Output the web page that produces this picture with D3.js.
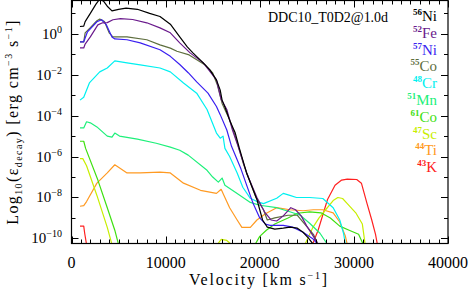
<!DOCTYPE html>
<html><head><meta charset="utf-8">
<script src="https://cdn.jsdelivr.net/npm/d3@7"></script>
<style>body{margin:0;background:#fff}svg{display:block}text{font-family:"Liberation Serif","Times New Roman",serif}</style>
</head><body>
<svg id="c" width="471" height="289"></svg>
<script>
// ---- data (velocity km/s, log10 of decay energy) ----
const ni56 = [[900,0.36],[1300,0.38],[1450,0.6],[2000,1.0],[2600,1.45],[3000,1.7],[3400,1.6],[3800,1.35],[4300,1.12],[5000,1.2],[5800,1.26],[7000,1.2],[8300,1.0],[9400,0.85],[10500,0.47],[11500,-0.15],[12300,-0.64],[12900,-0.93],[14000,-1.42],[14700,-1.76],[15400,-2.25],[15800,-2.75],[16000,-3.24],[16300,-3.58],[16800,-4.22],[17400,-4.85],[17800,-5.54],[18600,-6.8],[19700,-8.1],[20300,-9.1],[20800,-9.45],[21600,-9.55],[22500,-9.5],[23200,-9.45],[24000,-9.5],[24600,-9.7],[25200,-10.0],[25700,-10.3]];
const fe52 = [[900,-0.69],[1300,-0.69],[1450,-0.5],[2000,-0.15],[2800,0.44],[3300,0.54],[3800,0.55],[4400,0.69],[5200,0.74],[6500,0.7],[8000,0.54],[9400,0.29],[10500,0.05],[11500,-0.44],[12600,-0.93],[14000,-1.42],[15400,-2.25],[15900,-3.2],[16500,-3.7],[17100,-4.7],[17700,-5.5],[18600,-6.8],[19700,-8.0],[20500,-8.7],[21200,-9.1],[21800,-9.15],[22500,-8.9],[23300,-8.5],[23800,-8.6],[24400,-8.9],[25000,-9.4],[25700,-9.9],[26200,-10.3]];
const ni57 = [[900,-0.39],[1300,-0.39],[1450,-0.2],[1700,0.1],[2700,0.59],[3200,0.69],[3700,0.45],[4300,-0.15],[4600,-0.25],[5900,-0.29],[7300,-0.44],[9400,-0.78],[10500,-1.1],[11500,-1.5],[12400,-1.9],[13300,-2.35],[14500,-2.9],[15400,-3.55],[15800,-3.95],[16500,-4.7],[17000,-5.5],[18000,-6.6],[19300,-8.3],[20000,-9.0],[20600,-9.3],[21100,-9.36],[22500,-9.36],[23500,-9.45],[24600,-9.7],[25600,-10.0],[26200,-10.3]];
const co55 = [[900,-0.39],[1300,-0.39],[1450,0.05],[2000,0.3],[2700,0.64],[3000,0.72],[3500,0.6],[4000,0.05],[4400,-0.15],[5900,-0.15],[8000,-0.29],[9400,-0.54],[10500,-0.7],[11200,-0.85],[12500,-1.03],[14200,-1.52],[15000,-1.91],[15500,-2.5],[16000,-3.4],[16800,-4.2],[17600,-5.3],[18300,-6.4],[19600,-8.0],[20400,-8.6],[20800,-9.1],[21600,-9.0],[23000,-8.87],[24000,-8.87],[24600,-9.2],[25700,-9.8],[26200,-10.3]];
const cr48 = [[900,-3.24],[1300,-3.1],[1900,-2.4],[3000,-1.86],[3800,-1.67],[4600,-1.32],[5900,-1.42],[7300,-1.52],[9400,-1.67],[10500,-1.86],[11900,-2.4],[13300,-2.9],[14400,-3.7],[15400,-4.85],[15800,-5.1],[16100,-5.0],[16300,-5.6],[16800,-6.0],[17600,-6.8],[18200,-7.5],[19000,-8.04],[19700,-8.2],[20400,-8.3],[21800,-8.04],[22500,-7.8],[23200,-7.9],[23900,-8.0],[25300,-8.0],[26700,-8.05],[27800,-8.5],[28500,-9.1],[28900,-9.75],[29100,-10.3]];
const mn51 = [[900,-4.6],[1300,-4.6],[1600,-4.3],[2000,-4.35],[2700,-4.55],[3800,-5.0],[4300,-5.05],[4600,-4.85],[5100,-5.0],[7000,-5.15],[9000,-5.35],[10500,-5.54],[11500,-5.69],[12400,-5.93],[14400,-6.67],[15000,-7.0],[15600,-7.25],[16000,-7.05],[16300,-7.4],[17600,-7.8],[19000,-8.24],[20000,-8.38],[21800,-8.5],[23200,-8.7],[24300,-8.87],[25300,-9.26],[26400,-9.75],[27200,-10.3]];
const co61 = [[900,-5.25],[1300,-5.25],[1500,-5.6],[2800,-7.15],[3800,-8.5],[4600,-9.6],[5000,-10.3],[null,null],[19500,-10.3],[20000,-9.9],[20700,-9.6],[21600,-9.3],[23000,-9.0],[24000,-8.77],[25300,-8.7],[26500,-8.75],[27500,-9.0],[28500,-9.4],[29500,-9.6],[30500,-9.8],[31000,-10.3]];
const sc47 = [[900,-6.1],[1200,-6.1],[1600,-6.45],[2700,-7.9],[3800,-9.46],[4300,-10.3],[null,null],[15500,-10.3],[15900,-10.05],[16500,-10.1],[17000,-10.3],[null,null],[24800,-10.3],[25600,-9.5],[26300,-9.0],[27000,-8.6],[27800,-8.15],[28300,-8.0],[28800,-8.05],[29300,-8.3],[30200,-8.75],[30900,-9.3],[31200,-10.3]];
const ti44 = [[900,-8.43],[1300,-8.4],[1600,-8.2],[2700,-7.3],[3800,-6.8],[4600,-6.4],[5900,-6.8],[7300,-6.8],[9400,-6.76],[10500,-6.8],[11900,-7.3],[13700,-7.65],[15400,-7.8],[15900,-7.6],[16200,-7.9],[16800,-8.5],[17600,-9.1],[18100,-9.46],[19000,-9.46],[19700,-9.1],[20600,-8.8],[21800,-8.5],[23200,-8.6],[24600,-8.65],[25700,-8.6],[26700,-8.6],[27800,-8.75],[28500,-9.2],[29100,-9.9],[29300,-10.3]];
const k43 = [[900,-9.4],[1300,-9.4],[1400,-9.75],[1600,-10.3],[null,null],[25600,-10.3],[26200,-9.6],[27200,-8.1],[28000,-7.4],[28700,-7.15],[29300,-7.1],[30300,-7.12],[30800,-7.3],[31400,-8.3],[31900,-9.1],[32300,-9.8],[32500,-10.3]];

const isoNames = ["56","52","57","55","48","51","61","47","44","43"];
const isoElems = ["Ni","Fe","Ni","Co","Cr","Mn","Co","Sc","Ti","K"];
const isoColors = ["#000000","#6a1a8c","#3a1ff0","#5e6e3e","#00f0f0","#1ef07a","#3ee010","#c8ee00","#ff9a22","#ff2020"];
const isoData = [ni56,fe52,ni57,co55,cr48,mn51,co61,sc47,ti44,k43];

const xTickVals = [0,10000,20000,30000,40000];
const yTickExps = [0,-2,-4,-6,-8,-10];
const titleText = "DDC10_T0D2@1.0d";

// ---- drawing ----
const svg = d3.select("#c");
const L=71.5, R=448, T=0.5, B=243.5;
const x = d3.scaleLinear().domain([0,40000]).range([L,R]);
const y = d3.scaleLinear().domain([-10.25,1.63]).range([B,T]);

svg.append("clipPath").attr("id","clip").append("rect")
  .attr("x",L).attr("y",T).attr("width",R-L).attr("height",B-T);

const line = d3.line().defined(d=>d[0]!=null).x(d=>x(d[0])).y(d=>y(d[1]));
const g = svg.append("g").attr("clip-path","url(#clip)");
// draw in reverse so black on top
for (let i=isoData.length-1;i>=0;i--){
  g.append("path").datum(isoData[i]).attr("d",line)
   .attr("fill","none").attr("stroke",isoColors[i]).attr("stroke-width",1.2)
   .attr("stroke-linejoin","round");
}

// frame
svg.append("rect").attr("x",L).attr("y",T).attr("width",R-L).attr("height",B-T)
  .attr("fill","none").attr("stroke","#000").attr("stroke-width",1.2);

// ticks x
const ax = svg.append("g").attr("stroke","#000").attr("stroke-width",1);
d3.range(0,40001,1000).forEach(v=>{
  const len = v%10000===0 ? 7 : 4;
  const px = Math.round(x(v))+0.5;
  ax.append("line").attr("x1",px).attr("x2",px).attr("y1",B).attr("y2",B-len);
  ax.append("line").attr("x1",px).attr("x2",px).attr("y1",T).attr("y2",T+len);
});
d3.range(-10,2,1).forEach(e=>{
  const len = e%2===0 ? 7 : 4;
  const py = Math.round(y(e))+0.5;
  ax.append("line").attr("x1",L).attr("x2",L+len).attr("y1",py).attr("y2",py);
  ax.append("line").attr("x1",R).attr("x2",R-len).attr("y1",py).attr("y2",py);
});

// x tick labels
svg.append("g").selectAll("text").data(xTickVals).join("text")
  .attr("x",d=>x(d)).attr("y",268).attr("text-anchor","middle")
  .attr("font-size",16).text(d=>String(d));

// y tick labels
const yl = svg.append("g");
yTickExps.forEach(e=>{
  const t = yl.append("text").attr("x",62).attr("y",y(e)+5).attr("text-anchor","end").attr("font-size",15);
  t.append("tspan").text("10");
  t.append("tspan").attr("font-size",10).attr("dy",-6).text(e===0?"0":"\u2212"+(-e));
});

// x axis title
const xt = svg.append("text").attr("x",259).attr("y",285).attr("text-anchor","middle")
  .attr("font-size",16).attr("letter-spacing",1.8);
xt.append("tspan").text("Velocity [km s");
xt.append("tspan").attr("font-size",10).attr("dy",-6).text("\u22121");
xt.append("tspan").attr("dy",6).text("]");

// y axis title
const yt = svg.append("text").attr("transform","translate(18,122) rotate(-90)")
  .attr("text-anchor","middle").attr("font-size",16).attr("letter-spacing",1.4);
yt.append("tspan").text("Log");
yt.append("tspan").attr("font-size",10).attr("dy",4).text("10");
yt.append("tspan").attr("dy",-4).text("(\u03b5");
yt.append("tspan").attr("font-size",10).attr("dy",4).text("decay");
yt.append("tspan").attr("dy",-4).text(") [erg cm");
yt.append("tspan").attr("font-size",10).attr("dy",-6).text("\u22123");
yt.append("tspan").attr("dy",6).text(" s");
yt.append("tspan").attr("font-size",10).attr("dy",-6).text("\u22121");
yt.append("tspan").attr("dy",6).text("]");

// title
svg.append("text").attr("x",268).attr("y",22).attr("font-size",14)
  .attr("textLength",120).text(titleText);

// legend
isoNames.forEach((n,i)=>{
  const t = svg.append("text").attr("x",437).attr("y",21+i*16.8).attr("text-anchor","end")
    .attr("font-size",15).attr("fill",isoColors[i]);
  t.append("tspan").attr("font-size",9).attr("font-weight","bold").attr("dy",-6).text(n);
  t.append("tspan").attr("dy",6).text(isoElems[i]);
});
</script>
</body></html>
